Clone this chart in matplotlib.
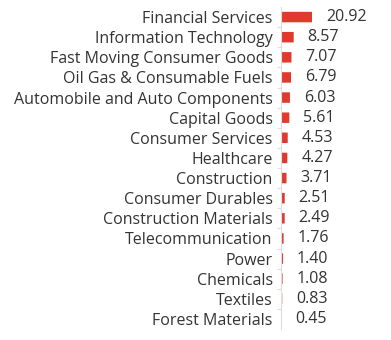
import matplotlib.pyplot as plt

sectors = ["Financial Services", "Information Technology", "Fast Moving Consumer Goods",
           "Oil Gas & Consumable Fuels", "Automobile and Auto Components", "Capital Goods",
           "Consumer Services", "Healthcare", "Construction", "Consumer Durables",
           "Construction Materials", "Telecommunication", "Power", "Chemicals",
           "Textiles", "Forest Materials"]
weights = [20.92, 8.57, 7.07, 6.79, 6.03, 5.61, 4.53, 4.27, 3.71, 2.51,
           2.49, 1.76, 1.40, 1.08, 0.83, 0.45]

plt.rcParams['font.family'] = ['Open Sans', 'DejaVu Sans']

fig = plt.figure(figsize=(3.91, 3.4), dpi=100)
ax = fig.add_axes([281 / 391, 11 / 340, 100 / 391, 322 / 340])

pos = list(range(len(sectors)))
# snap off so the thin bars still show up as faint slivers
ax.barh(pos, weights, height=0.52, color="#e0392e", zorder=2, snap=False)

for p, w in zip(pos, weights):
    ax.annotate("%.2f" % w, (w, p), xytext=(10, 0), textcoords="offset points",
                va="center", ha="left", fontsize=11.5, color="#333333")

ax.set_xlim(0, 67.5)
ax.set_ylim(len(sectors) - 0.5, -0.5)
ax.set_yticks(pos)
ax.set_yticklabels(sectors, fontsize=11.5, color="#333333")
ax.tick_params(axis="y", length=0, pad=6)
ax.set_yticks([p + 0.5 for p in pos[:-1]], minor=True)
ax.tick_params(axis="y", which="minor", length=3, color="#dddddd", width=0.8)
ax.set_xticks([])

for s in ["top", "right", "bottom"]:
    ax.spines[s].set_visible(False)
ax.spines["left"].set_color("#dddddd")
ax.spines["left"].set_linewidth(0.8)

fig.savefig("out.png", dpi=100)
